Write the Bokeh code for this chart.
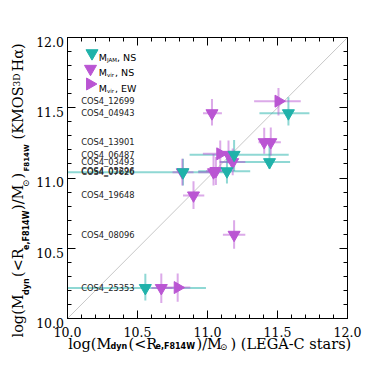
import numpy as np
from bokeh.plotting import figure
from bokeh.models import Range1d, LinearAxis, SingleIntervalTicker, Label, CustomLabelingPolicy
from bokeh.core.properties import value
from bokeh.embed import file_html
from bokeh.resources import INLINE

# ---------------- data ----------------
gal_names = ["COS4_12699", "COS4_04943", "COS4_13901", "COS4_06487", "COS4_03493",
             "COS4_05296", "COS4_07626", "COS4_19648", "COS4_08096", "COS4_25353"]
gal_y = [11.547, 11.461, 11.255, 11.167, 11.113, 11.047, 11.041, 10.876, 10.596, 10.217]

# M_JAM, NS
jam_x = [11.578, 11.19, 11.443, 10.825, 11.139, 10.556]
jam_y = [11.461, 11.165, 11.113, 11.041, 11.048, 10.217]
jam_xlo = [11.371, 10.872, 11.086, 9.95, 10.934, 9.9]
jam_xhi = [11.728, 11.58, 11.59, 11.12, 11.305, 10.989]
jam_ylo = [11.374, 11.05, 11.066, 10.947, 10.96, 10.128]
jam_yhi = [11.575, 11.27, 11.255, 11.137, 11.14, 10.318]

# M_vir, NS
virns_x = [11.032, 11.405, 11.452, 11.15, 11.18, 10.82, 11.043, 11.06, 10.9, 11.19, 10.67]
virns_y = [11.461, 11.255, 11.255, 11.165, 11.113, 11.041, 11.041, 11.05, 10.876, 10.596, 10.217]
virns_xlo = [10.968, 11.364, 11.40, 11.08, 11.09, 10.75, 10.934, 10.99, 10.825, 11.11, 10.60]
virns_xhi = [11.103, 11.471, 11.524, 11.22, 11.27, 10.90, 11.067, 11.12, 10.977, 11.27, 10.75]
virns_ylo = [11.374, 11.172, 11.16, 11.103, 11.02, 10.947, 10.947, 10.95, 10.78, 10.497, 10.11]
virns_yhi = [11.563, 11.357, 11.36, 11.267, 11.21, 11.137, 11.17, 11.15, 10.977, 10.70, 10.32]

# M_vir, EW
virew_x = [11.507, 11.091, 10.787]
virew_y = [11.547, 11.172, 10.22]
virew_xlo = [11.333, 10.967, 10.663]
virew_xhi = [11.666, 11.186, 10.877]
virew_ylo = [11.445, 11.077, 10.12]
virew_yhi = [11.64, 11.267, 10.32]

tick_values = [10.0, 10.5, 11.0, 11.5, 12.0]
tick_labels = ["10.0", "10.5", "11.0", "11.5", "12.0"]

axis_min, axis_max = 10.0, 12.0

TEAL = "#20b2aa"
PURPLE = "#ba55d3"

# ---------------- layout (page pixels) ----------------
SIZE = 366
BOX_L, BOX_R, BOX_T, BOX_B = 67, 347, 37, 318
KX = (BOX_R - BOX_L) / (axis_max - axis_min)
KY = (BOX_B - BOX_T) / (axis_max - axis_min)


def px2x(px):
    return axis_min + (px - BOX_L) / KX


def py2y(py):
    return axis_min + (BOX_B - py) / KY


p = figure(frame_width=SIZE, frame_height=SIZE, min_border=0,
           x_range=Range1d(px2x(0), px2x(SIZE)), y_range=Range1d(py2y(SIZE), py2y(0)),
           output_backend="svg", toolbar_location=None, x_axis_type=None, y_axis_type=None)
p.xgrid.visible = False
p.ygrid.visible = False
p.outline_line_color = None
p.background_fill_color = "white"
p.border_fill_color = "white"


def make_axis(loc):
    ax = LinearAxis(ticker=SingleIntervalTicker(interval=0.5, num_minor_ticks=5),
                    fixed_location=loc, bounds=(axis_min, axis_max))
    ax.major_tick_in = 8
    ax.major_tick_out = 0
    ax.minor_tick_in = 4
    ax.minor_tick_out = 0
    ax.axis_line_color = "black"
    ax.axis_line_width = 1
    ax.major_tick_line_color = "black"
    ax.minor_tick_line_color = "black"
    ax.major_label_text_font_size = "0px"
    ax.major_label_standoff = 0
    ax.major_label_policy = CustomLabelingPolicy(code="""
        for (const i of indices)
            indices.unset(i)
    """)
    return ax


p.add_layout(make_axis(axis_min), "below")
p.add_layout(make_axis(axis_min), "left")
p.add_layout(make_axis(axis_max), "above")
p.add_layout(make_axis(axis_max), "right")

# tick labels
p.text(x=tick_values, y=[py2y(331.5)] * len(tick_values), text=tick_labels,
       text_font=value("DejaVu Serif"), text_font_size="12.5px",
       text_align="center", text_baseline="alphabetic", text_color="black")
p.text(x=[px2x(63.5)] * len(tick_values), y=[v - 4.4 / KY for v in tick_values], text=tick_labels,
       text_font=value("DejaVu Serif"), text_font_size="12.5px",
       text_align="right", text_baseline="alphabetic", text_color="black")

# one-to-one line
p.line([axis_min, axis_max], [axis_min, axis_max], line_color="#c8c8c8", line_width=1)


def clip(v):
    return np.clip(np.asarray(v, dtype=float), axis_min, axis_max)


# error bars (clipped to the plot box)
for xs, ys, xlo, xhi, ylo, yhi, col in [
        (jam_x, jam_y, jam_xlo, jam_xhi, jam_ylo, jam_yhi, TEAL),
        (virns_x, virns_y, virns_xlo, virns_xhi, virns_ylo, virns_yhi, PURPLE),
        (virew_x, virew_y, virew_xlo, virew_xhi, virew_ylo, virew_yhi, PURPLE)]:
    p.segment(x0=clip(xlo), x1=clip(xhi), y0=ys, y1=ys, line_color=col, line_alpha=0.5, line_width=2)
    p.segment(x0=xs, x1=xs, y0=clip(ylo), y1=clip(yhi), line_color=col, line_alpha=0.5, line_width=2)

# markers
MS = 12
p.scatter(virns_x, virns_y, marker="inverted_triangle", size=MS, fill_color=PURPLE, line_color=PURPLE)
p.scatter(virew_x, virew_y, marker="triangle", angle=-np.pi / 2, size=MS, fill_color=PURPLE, line_color=PURPLE)
p.scatter(jam_x, jam_y, marker="inverted_triangle", size=MS, fill_color=TEAL, line_color=TEAL)

# galaxy names
p.text(x=[px2x(80.7)] * len(gal_names), y=gal_y, text=gal_names,
       text_font=value("DejaVu Sans"), text_font_size="8.3px",
       text_baseline="middle", text_align="left", text_color="#222222")


def add_text(txt, px, py, size, font="DejaVu Serif", style="normal", angle=0.0):
    p.add_layout(Label(x=px2x(px), y=py2y(py), text=txt, text_font=font,
                       text_font_size=f"{size}px", text_font_style=style, angle=angle,
                       text_align="left", text_baseline="alphabetic", text_color="black"))


# legend
p.scatter([px2x(91.5)], [py2y(52.7)], marker="inverted_triangle", size=MS, fill_color=TEAL, line_color=TEAL)
p.scatter([px2x(90.0)], [py2y(68.3)], marker="inverted_triangle", size=MS, fill_color=PURPLE, line_color=PURPLE)
p.scatter([px2x(89.5)], [py2y(83.5)], marker="triangle", angle=-np.pi / 2, size=MS, fill_color=PURPLE, line_color=PURPLE)
for base, sub, rest, rest_x in [(56.5, "JAM", ", NS", 116.5), (72.0, "vir", ", NS", 114.5), (87.5, "vir", ", EW", 114.5)]:
    add_text("M", 98.3, base, 9.5, font="DejaVu Sans")
    add_text(sub, 106.5, base + 2.5, 5.5, font="DejaVu Sans")
    add_text(rest, rest_x, base, 9.5, font="DejaVu Sans")

# x-axis label (built from pieces for subscripts)
FX = 14.5
XB = 343.3
SB = 346.0
add_text("log(M", 67.7, XB, FX)
add_text("dyn", 110.0, SB, 8, font="DejaVu Sans", style="bold")
add_text("(<R", 128.0, XB, FX)
add_text("e,F814W", 155.0, SB, 8, font="DejaVu Sans", style="bold")
add_text(")/M", 196.0, XB, FX)
add_text("\u2299", 219.5, SB, 9)
add_text(") (LEGA-C stars)", 230.0, XB, FX)

# y-axis label (rotated pieces); rotated labels are anchored on the glyph-top side,
# so the anchor sits ~0.87 font size left of the wanted baseline
FY = 14.5


def ylab(txt, base_x, start_y, size, **kw):
    add_text(txt, base_x - 0.87 * size, start_y, size, angle=np.pi / 2, **kw)


YB = 30.0
YS = 33.0
YP = 24.0
ylab("log(M", YB, 337.0, FY)
ylab("dyn", YS, 294.5, 8, font="DejaVu Sans", style="bold")
ylab("(<R", YB, 276.5, FY)
ylab("e,F814W", YS, 249.5, 8, font="DejaVu Sans", style="bold")
ylab(")/M", YB, 209.5, FY)
ylab("\u2299", YS, 186.5, 9)
ylab(")", YB, 178.0, FY)
ylab("F814W", YS, 171.0, 7, font="DejaVu Sans", style="bold")
ylab("(KMOS", YB, 139.0, FY)
ylab("3D", YP, 86.0, 9)
ylab("H\u03b1)", YB, 71.0, FY)

open("out.html", "w").write(file_html(p, INLINE))
